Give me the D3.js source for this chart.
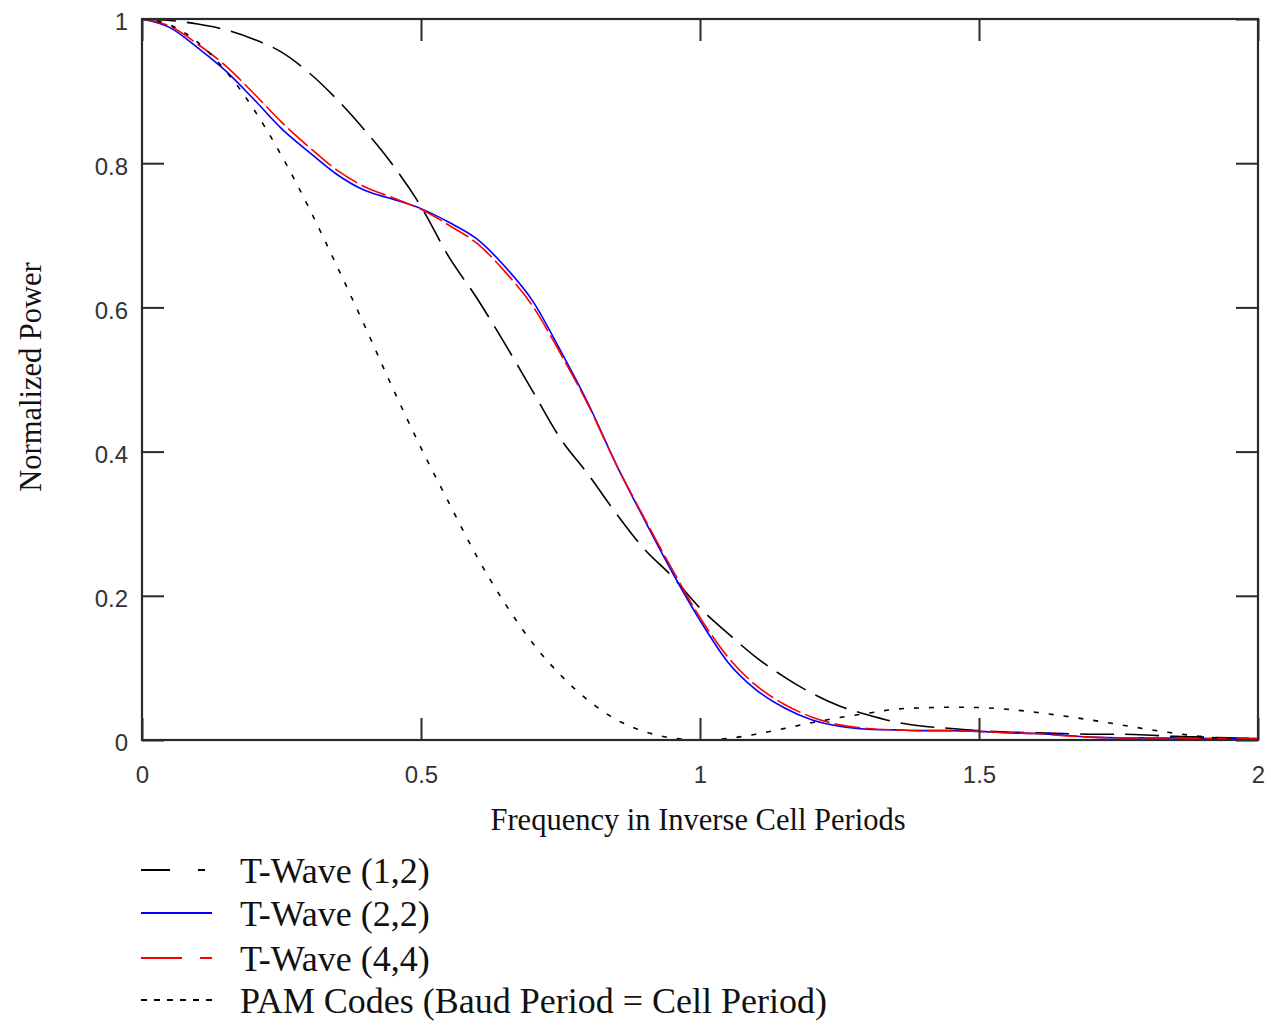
<!DOCTYPE html>
<html>
<head>
<meta charset="utf-8">
<script src="https://cdn.jsdelivr.net/npm/d3@7"></script>
<style>
  html, body { margin: 0; padding: 0; background: #fff; }
  svg { display: block; }
</style>
</head>
<body>
<svg id="chart" width="1271" height="1026"></svg>
<script>
// ---- data ----
const freq = [0,0.05,0.1,0.15,0.2,0.25,0.3,0.35,0.4,0.45,0.5,0.55,0.6,0.65,0.7,0.75,0.8,0.85,0.9,0.95,
              1.0,1.05,1.1,1.15,1.2,1.25,1.3,1.35,1.4,1.45,1.5,1.55,1.6,1.65,1.7,1.75,1.8,1.85,1.9,1.95,2.0];

const tWave12 = [1,0.998,0.993,0.985,0.972,0.954,0.925,0.888,0.845,0.797,0.74,0.67,0.613,0.55,0.484,0.418,0.368,0.314,0.265,0.227,
                 0.183,0.148,0.115,0.088,0.065,0.047,0.035,0.025,0.019,0.016,0.013,0.011,0.01,0.009,0.008,0.008,0.007,0.005,0.004,0.003,0.002];

const tWave22 = [1,0.988,0.96,0.928,0.889,0.848,0.815,0.784,0.762,0.75,0.737,0.718,0.695,0.657,0.609,0.54,0.466,0.382,0.306,0.233,
                 0.166,0.108,0.07,0.045,0.028,0.019,0.015,0.014,0.013,0.013,0.012,0.01,0.009,0.007,0.004,0.003,0.003,0.003,0.002,0.002,0.002];

const tWave44 = [1,0.99,0.965,0.935,0.897,0.857,0.822,0.79,0.767,0.752,0.736,0.714,0.689,0.65,0.602,0.536,0.464,0.382,0.308,0.237,
                 0.17,0.115,0.076,0.05,0.032,0.021,0.016,0.014,0.013,0.013,0.012,0.01,0.009,0.006,0.004,0.003,0.003,0.003,0.002,0.002,0.002];

const pamCodes = [1,0.9918,0.9675,0.9281,0.8751,0.8106,0.7368,0.6563,0.5728,0.4869,0.4053,0.3291,0.2546,0.19,0.1345,0.0901,0.0547,0.0283,0.0119,0.0027,
                  0,0.0022,0.008,0.0158,0.0239,0.0311,0.037,0.0427,0.0446,0.0455,0.045,0.0427,0.0386,0.0335,0.0278,0.0215,0.0152,0.0095,0.0047,0.0012,0];

const xTicks = [0, 0.5, 1, 1.5, 2];
const xTickLabels = ["0", "0.5", "1", "1.5", "2"];
const yTicks = [0, 0.2, 0.4, 0.6, 0.8, 1];
const yTickLabels = ["0", "0.2", "0.4", "0.6", "0.8", "1"];

const seriesNames = ["T-Wave (1,2)", "T-Wave (2,2)", "T-Wave (4,4)", "PAM Codes (Baud Period = Cell Period)"];
const xTitle = "Frequency in Inverse Cell Periods";
const yTitle = "Normalized Power";

// ---- layout ----
const svg = d3.select("#chart");
const pLeft = 142, pTop = 19, pRight = 1258, pBottom = 740;

const x = d3.scaleLinear().domain([0, 2]).range([pLeft, pRight]);
const y = d3.scaleLinear().domain([0, 1]).range([pBottom, pTop]);

const series = [
  { name: seriesNames[0], values: tWave12, color: "#000", dash: "34,11", width: 1.6, legendDash: "29,28,7,200" },
  { name: seriesNames[1], values: tWave22, color: "#0000ff", dash: null, width: 1.6, legendDash: null },
  { name: seriesNames[2], values: tWave44, color: "#ff0000", dash: "26,5", width: 1.6, legendDash: "41,18,12,200" },
  { name: seriesNames[3], values: pamCodes, color: "#000", dash: "5,10", width: 1.6, legendDash: "6,7" }
];

const line = d3.line()
  .x(d => x(d[0]))
  .y(d => y(d[1]))
  .curve(d3.curveMonotoneX);

const plot = svg.append("g");
series.forEach(s => {
  plot.append("path")
    .datum(freq.map((f, i) => [f, s.values[i]]))
    .attr("fill", "none")
    .attr("stroke", s.color)
    .attr("stroke-width", s.width)
    .attr("stroke-dasharray", s.dash)
    .attr("d", line);
});

// ---- axes (ticks inward on all four sides) ----
const tickLen = 22;
const axisColor = "#2a2a2a";
const fmtX = (d, i) => xTickLabels[i];
const fmtY = (d, i) => yTickLabels[i];

const gBottom = svg.append("g").attr("transform", `translate(0,${pBottom})`)
  .call(d3.axisBottom(x).tickValues(xTicks).tickFormat(fmtX).tickSizeInner(-tickLen).tickSizeOuter(0).tickPadding(26));
const gTop = svg.append("g").attr("transform", `translate(0,${pTop})`)
  .call(d3.axisTop(x).tickValues(xTicks).tickFormat("").tickSizeInner(-tickLen).tickSizeOuter(0));
const gLeft = svg.append("g").attr("transform", `translate(${pLeft},0)`)
  .call(d3.axisLeft(y).tickValues(yTicks).tickFormat(fmtY).tickSizeInner(-tickLen).tickSizeOuter(0).tickPadding(14));
const gRight = svg.append("g").attr("transform", `translate(${pRight},0)`)
  .call(d3.axisRight(y).tickValues(yTicks).tickFormat("").tickSizeInner(-tickLen).tickSizeOuter(0));

[gBottom, gTop, gLeft, gRight].forEach(g => {
  g.selectAll(".domain").remove();
  g.selectAll(".tick line").attr("stroke", axisColor).attr("stroke-width", 2);
  g.selectAll(".tick text")
    .attr("fill", "#333")
    .style("font-family", "'Liberation Sans', Arial, sans-serif")
    .style("font-size", "24px");
});
gBottom.selectAll(".tick text").attr("dy", "0.71em");
gLeft.selectAll(".tick text").attr("dy", "0.45em");

// frame
svg.append("rect")
  .attr("x", pLeft).attr("y", pTop)
  .attr("width", pRight - pLeft).attr("height", pBottom - pTop)
  .attr("fill", "none").attr("stroke", axisColor).attr("stroke-width", 2.2);

// titles
svg.append("text")
  .attr("x", 698).attr("y", 830)
  .attr("text-anchor", "middle")
  .style("font-family", "'Liberation Serif', 'Times New Roman', serif")
  .style("font-size", "30.5px")
  .attr("fill", "#111")
  .text(xTitle);

svg.append("text")
  .attr("transform", `translate(41,377) rotate(-90)`)
  .attr("text-anchor", "middle")
  .style("font-family", "'Liberation Serif', 'Times New Roman', serif")
  .style("font-size", "30.5px")
  .attr("fill", "#111")
  .text(yTitle);

// legend
const legendRows = [870, 913, 958, 1000];
const legend = svg.append("g");
series.forEach((s, i) => {
  const ly = legendRows[i];
  legend.append("line")
    .attr("x1", 141).attr("x2", 212)
    .attr("y1", ly).attr("y2", ly)
    .attr("stroke", s.color).attr("stroke-width", 1.8)
    .attr("stroke-dasharray", s.legendDash);
  legend.append("text")
    .attr("x", 240).attr("y", ly)
    .attr("dy", "0.36em")
    .style("font-family", "'Liberation Serif', 'Times New Roman', serif")
    .style("font-size", "36px")
    .attr("fill", "#111")
    .text(s.name);
});
</script>
</body>
</html>
